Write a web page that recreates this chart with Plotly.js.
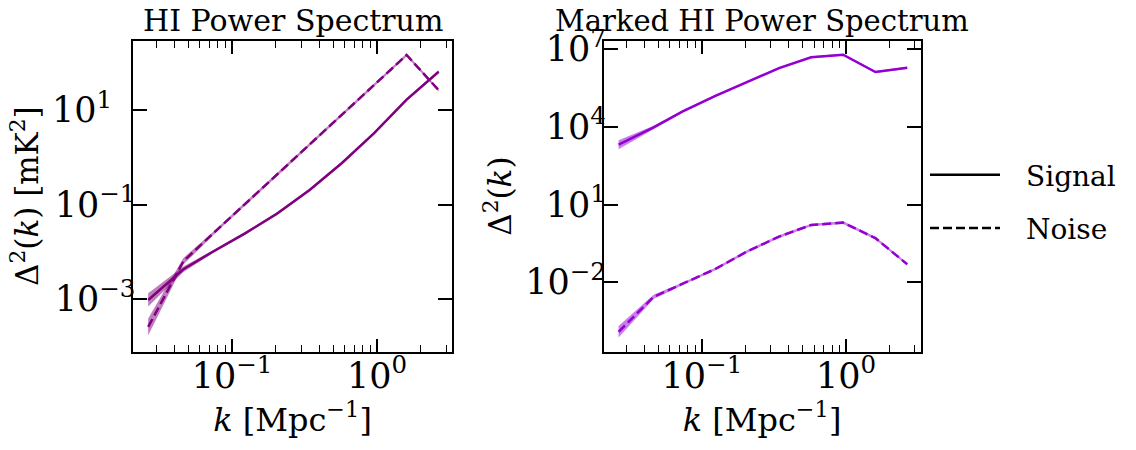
<!DOCTYPE html>
<html>
<head>
<meta charset="utf-8">
<script src="https://cdn.plot.ly/plotly-3.0.1.min.js"></script>
<style>html,body{margin:0;padding:0;background:#fff;}</style>
</head>
<body>
<div id="chart" style="width:1136px;height:450px;"></div>
<script>
// wavenumber bins k [Mpc^-1]
const k = [0.0264, 0.0462, 0.0736, 0.123, 0.205, 0.343, 0.573, 0.955, 1.60, 2.66];

// HI power spectrum (left panel)
const hiSignal      = [9.55e-4, 4.27e-3, 1.00e-2, 2.45e-2, 6.46e-2, 0.204, 0.759, 3.24, 16.6, 64.6];
const hiSignalLow   = [6.92e-4, 3.72e-3, 9.33e-3, 2.29e-2, 6.03e-2, 0.191, 0.708, 3.02, 15.5, 60.3];
const hiSignalHigh  = [1.32e-3, 4.90e-3, 1.07e-2, 2.63e-2, 6.92e-2, 0.219, 0.813, 3.47, 17.8, 69.2];
const hiNoise       = [2.57e-4, 6.31e-3, 2.40e-2, 0.102, 0.437, 1.86, 7.94, 33.9, 146, 26.3];
const hiNoiseLow    = [1.70e-4, 5.37e-3, 2.21e-2, 9.55e-2, 0.407, 1.74, 7.41, 31.6, 136, 24.5];
const hiNoiseHigh   = [3.89e-4, 7.41e-3, 2.60e-2, 0.110, 0.468, 2.00, 8.51, 36.3, 157, 28.2];

// Marked HI power spectrum (right panel)
const mkSignal      = [2042, 9550, 39800, 155000, 537000, 1.86e6, 4.90e6, 6.17e6, 1.32e6, 1.91e6];
const mkSignalLow   = [1380, 8318, 36300, 141000, 490000, 1.70e6, 4.47e6, 5.62e6, 1.20e6, 1.74e6];
const mkSignalHigh  = [3020, 10960, 43650, 170000, 589000, 2.04e6, 5.37e6, 6.76e6, 1.45e6, 2.09e6];
const mkNoise       = [1.20e-4, 2.69e-3, 8.71e-3, 3.16e-2, 0.151, 0.575, 1.62, 2.00, 0.501, 4.90e-2];
const mkNoiseLow    = [7.24e-5, 2.24e-3, 7.76e-3, 2.82e-2, 0.135, 0.513, 1.45, 1.78, 0.447, 4.37e-2];
const mkNoiseHigh   = [2.00e-4, 3.24e-3, 9.77e-3, 3.55e-2, 0.170, 0.646, 1.82, 2.24, 0.562, 5.50e-2];

const panelTitles = ['HI Power Spectrum', 'Marked HI Power Spectrum'];
const legendNames = ['Signal', 'Noise'];

const FONT = 'DejaVu Serif';
const LEFT_COL = '#800080', LEFT_BAND = 'rgba(128,0,128,0.5)';
const RIGHT_COL = '#9400D3', RIGHT_BAND = 'rgba(148,0,211,0.5)';
const DASH = '9px,4px';

function band(xa, ya, low, high, fillc) {
  return [
    {x: k, y: low, xaxis: xa, yaxis: ya, type: 'scatter', mode: 'lines',
     line: {width: 0, color: fillc}, showlegend: false, hoverinfo: 'skip'},
    {x: k, y: high, xaxis: xa, yaxis: ya, type: 'scatter', mode: 'lines',
     line: {width: 0, color: fillc}, fill: 'tonexty', fillcolor: fillc,
     showlegend: false, hoverinfo: 'skip'}
  ];
}
function line(xa, ya, y, color, dash) {
  return {x: k, y: y, xaxis: xa, yaxis: ya, type: 'scatter', mode: 'lines',
          line: {color: color, width: 2.5, dash: dash}, showlegend: false};
}

const GAP = '\u2002\u2005';
const traces = [].concat(
  band('x', 'y', hiSignalLow, hiSignalHigh, LEFT_BAND),
  [line('x', 'y', hiSignal, LEFT_COL, 'solid')],
  band('x', 'y', hiNoiseLow, hiNoiseHigh, LEFT_BAND),
  [line('x', 'y', hiNoise, LEFT_COL, DASH)],
  band('x2', 'y2', mkSignalLow, mkSignalHigh, RIGHT_BAND),
  [line('x2', 'y2', mkSignal, RIGHT_COL, 'solid')],
  band('x2', 'y2', mkNoiseLow, mkNoiseHigh, RIGHT_BAND),
  [line('x2', 'y2', mkNoise, RIGHT_COL, DASH)],
  [
    {x: [null], y: [null], xaxis: 'x2', yaxis: 'y2', type: 'scatter', mode: 'lines',
     name: GAP + legendNames[0], legendgroup: 'a', line: {color: 'black', width: 2.5}},
    {x: [null], y: [null], xaxis: 'x2', yaxis: 'y2', type: 'scatter', mode: 'lines',
     name: GAP + legendNames[1], legendgroup: 'b', line: {color: 'black', width: 2.5, dash: DASH}}
  ]
);

const W = 1136, H = 450;
const yDom = [1 - 351.5 / H, 1 - 40.7 / H];
const tickFont = {family: FONT, size: 28, color: 'black'};
const titleFont = {family: FONT, size: 29, color: 'black'};

function xaxis(dom, anchor) {
  return {
    type: 'log', range: [-1.683, 0.517], domain: dom, anchor: anchor,
    showline: true, linewidth: 2, linecolor: 'black', mirror: 'allticks',
    ticks: 'inside', ticklen: 13, tickwidth: 2, tickcolor: 'black',
    dtick: 1, exponentformat: 'power', labelalias: {'1': '10<sup>0</sup>'},
    ticklabelstandoff: -6,
    minor: {ticks: 'inside', ticklen: 7, tickwidth: 1, tickcolor: 'black', dtick: 'D1', showgrid: false},
    showgrid: false, zeroline: false, tickfont: tickFont,
    title: {text: '<i>k</i> [Mpc<sup>−1</sup>]', font: {family: FONT, size: 32, color: 'black'}, standoff: 8}
  };
}
function yaxis(range, tick0, dtick, anchor, title, alias) {
  return {
    type: 'log', range: range, domain: yDom, anchor: anchor,
    showline: true, linewidth: 2, linecolor: 'black', mirror: 'allticks',
    ticks: 'inside', ticklen: 14, tickwidth: 2, tickcolor: 'black',
    tick0: tick0, dtick: dtick, exponentformat: 'power',
    labelalias: {'10': alias},
    ticklabelstandoff: -10,
    showgrid: false, zeroline: false, tickfont: tickFont,
    title: {text: title, font: {family: FONT, size: 31, color: 'black'}, standoff: 4}
  };
}

const layout = {
  width: W, height: H,
  margin: {l: 0, r: 0, t: 0, b: 0},
  paper_bgcolor: 'white', plot_bgcolor: 'white',
  font: {family: FONT, color: 'black'},
  xaxis: xaxis([133 / W, 452 / W], 'y'),
  yaxis: yaxis([-4.11, 2.467], 1, 2, 'x', 'Δ<sup>2</sup>(<i>k</i>) [mK<sup>2</sup>]', '10<sup>1</sup>\u2002\u2006'),
  xaxis2: xaxis([603.5 / W, 920.5 / W], 'y2'),
  yaxis2: yaxis([-4.68, 7.33], -2, 3, 'x2', 'Δ<sup>2</sup>(<i>k</i>)', '10<sup>1</sup>'),
  showlegend: true,
  legend: {
    x: 925 / W, y: 1 - 150 / H, xanchor: 'left', yanchor: 'top',
    font: {family: FONT, size: 28, color: 'black'},
    itemwidth: 70, tracegroupgap: 14, bgcolor: 'rgba(0,0,0,0)'
  },
  annotations: [
    {text: panelTitles[0], xref: 'paper', yref: 'paper', x: 292.5 / W, y: 1 - 21 / H,
     xanchor: 'center', yanchor: 'middle', showarrow: false, font: {family: FONT, size: 30, color: 'black'}},
    {text: panelTitles[1], xref: 'paper', yref: 'paper', x: 762 / W, y: 1 - 21 / H,
     xanchor: 'center', yanchor: 'middle', showarrow: false, font: titleFont}
  ]
};

Plotly.newPlot('chart', traces, layout, {staticPlot: true, displayModeBar: false});
</script>
</body>
</html>
